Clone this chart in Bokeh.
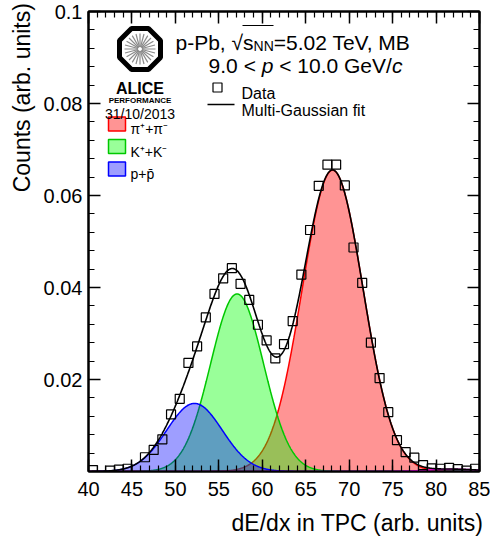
import math
import numpy as np
from bokeh.plotting import figure
from bokeh.models import Range1d, LinearAxis, FixedTicker, CustomJSTickFormatter, Label
from bokeh.embed import file_html
from bokeh.resources import INLINE

# ---------------- data ----------------
bin_centers = [40.5, 42.5, 43.5, 44.5, 46.5, 47.5, 48.5, 49.5, 50.5, 51.5, 52.5,
               53.5, 54.5, 55.5, 56.5, 57.5, 58.5, 59.5, 60.5, 61.5, 62.5, 63.5,
               64.5, 65.5, 66.5, 67.5, 68.5, 69.5, 70.5, 71.5, 72.5, 73.5, 74.5,
               75.5, 76.5, 77.5, 78.5, 79.5, 80.5, 81.5, 82.5, 83.5, 84.5]
counts = [0.0003, 0.0002, 0.0004, 0.0006, 0.0031, 0.0047, 0.0070, 0.0124, 0.0158,
          0.0236, 0.0272, 0.0335, 0.0386, 0.0420, 0.0442, 0.0408, 0.0373, 0.0319,
          0.0285, 0.0246, 0.0277, 0.0327, 0.0428, 0.0525, 0.0621, 0.0667, 0.0667,
          0.0622, 0.0487, 0.0410, 0.0280, 0.0203, 0.0129, 0.0068, 0.0042, 0.0030,
          0.0014, 0.0007, 0.0006, 0.0008, 0.0005, 0.0002, 0.0006]

# multi-Gaussian fit components (pi, K, p, e)
comp_names = ["pion", "kaon", "proton", "electron"]
comp_mean = [68.1, 57.1, 52.2, 82.0]
comp_sigma = [3.5, 3.05, 3.2, 3.0]
comp_amp = [0.0655, 0.0386, 0.0148, 0.0005]
comp_line = ["#ff0000", "#00c800", "#0000ff", "#ff00ff"]
comp_fill = ["#ff0000", "#00ff00", "#0000ff", "#ff00ff"]
comp_alpha = [0.42, 0.40, 0.38, 0.2]
legend_labels = ["\u03c0\u207a+\u03c0\u207b", "K\u207a+K\u207b", "p+p\u0304"]

x_major = [40, 45, 50, 55, 60, 65, 70, 75, 80, 85]
x_minor = list(range(40, 86))
y_major = [0.02, 0.04, 0.06, 0.08, 0.1]
y_minor = [round(0.004 * i, 3) for i in range(1, 26)]

x_title = "dE/dx in TPC (arb. units)"
y_title = "Counts (arb. units)"

# ---------------- layout ----------------
W, H = 490, 542
BL, BR, BT, BB = 88, 11, 11, 71
FW, FH = W - BL - BR, H - BT - BB
X0, X1, Y0, Y1 = 40.0, 85.0, 0.0, 0.1
FONT = "Liberation Sans"
NBSP = "\u00a0"


def dx(ix):  # page pixel -> data x
    return X0 + (ix - BL) * (X1 - X0) / FW


def dy(iy):  # page pixel -> data y
    return Y1 - (iy - BT) * (Y1 - Y0) / FH


p = figure(width=W, height=H, output_backend="svg", toolbar_location=None,
           x_range=Range1d(X0, X1), y_range=Range1d(Y0, Y1),
           min_border_left=BL, min_border_right=BR, min_border_top=BT,
           min_border_bottom=BB, background_fill_color="white",
           border_fill_color="white")
p.xgrid.visible = False
p.ygrid.visible = False
p.outline_line_color = "black"
p.outline_line_width = 2

xt = FixedTicker(ticks=x_major, minor_ticks=x_minor)
yt = FixedTicker(ticks=y_major, minor_ticks=y_minor)
yfmt = CustomJSTickFormatter(code="return (Math.round(tick*1000)/1000).toString();")
blank = CustomJSTickFormatter(code="return '';")


def style_axis(ax, labels=True, standoff=6):
    ax.axis_line_color = "black"
    ax.axis_line_width = 2
    ax.major_tick_in = 12
    ax.major_tick_out = 0
    ax.minor_tick_in = 6
    ax.minor_tick_out = 0
    ax.major_tick_line_width = 1.5
    ax.minor_tick_line_width = 1.2
    ax.major_tick_line_color = "black"
    ax.minor_tick_line_color = "black"
    ax.major_label_text_font = FONT
    ax.major_label_text_color = "black"
    ax.axis_label_text_font = FONT
    ax.axis_label_text_font_style = "normal"
    ax.axis_label_text_font_size = "23px"
    ax.axis_label_text_color = "black"
    if labels:
        ax.major_label_text_font_size = "20px"
        ax.major_label_standoff = standoff
    else:
        ax.formatter = blank
        ax.major_label_text_font_size = "1px"
        ax.major_label_standoff = 0


p.xaxis.ticker = xt
p.yaxis.ticker = yt
p.yaxis.formatter = yfmt
style_axis(p.xaxis[0], True, 10)
style_axis(p.yaxis[0], True, 6)
# titles are pushed towards the end of their axis (ROOT style) with
# leading non-breaking spaces, since Bokeh centres axis titles
p.xaxis.axis_label = NBSP * 23 + x_title
p.yaxis.axis_label = NBSP * 45 + y_title
p.xaxis.axis_label_standoff = 11
p.yaxis.axis_label_standoff = 6

top_ax = LinearAxis(ticker=xt)
style_axis(top_ax, False)
p.add_layout(top_ax, "above")
right_ax = LinearAxis(ticker=yt)
style_axis(right_ax, False)
p.add_layout(right_ax, "right")

# ---------------- fit components ----------------
xf = np.linspace(X0, X1, 901)
total = np.zeros_like(xf)
for name, m, s, a, lc, fc, al in zip(comp_names, comp_mean, comp_sigma, comp_amp,
                                     comp_line, comp_fill, comp_alpha):
    g = a * np.exp(-0.5 * ((xf - m) / s) ** 2)
    total += g
    if name != "electron":
        p.varea(x=xf, y1=0, y2=g, fill_color=fc, fill_alpha=al)
    p.line(xf, g, line_color=lc, line_width=1.5)

p.line(xf, total, line_color="black", line_width=1.6)
p.scatter(bin_centers, counts, marker="square", size=9, fill_color=None,
          line_color="black", line_width=1.2)


# ---------------- annotations ----------------
def lab(text, ix, iy, size, align="left", baseline="alphabetic", style="normal",
        color="black", font=FONT, angle=0.0):
    p.add_layout(Label(x=dx(ix), y=dy(iy), text=text, text_font=font,
                       text_font_size=f"{size}px", text_align=align,
                       text_baseline=baseline, text_font_style=style,
                       text_color=color, angle=angle))


# header
lab("p-Pb, \u221as", 175, 41.5, 21)
lab("NN", 253.1, 45.5, 14)
lab("=5.02 TeV, MB", 273.3, 41.5, 21)
p.segment(x0=[dx(242)], y0=[dy(25)], x1=[dx(273)], y1=[dy(25)],
          line_color="black", line_width=1.2)
for t, ix, st in [("9.0 <", 208.1, "normal"), ("p", 261.2, "italic"),
                  ("< 10.0 GeV/", 278.7, "normal"), ("c", 391.4, "italic")]:
    lab(t, ix, 64.5, 21, style=st)

# data / fit legend
p.scatter([dx(217)], [dy(87)], marker="square", size=9, fill_color=None,
          line_color="black", line_width=1.2)
lab("Data", 241, 92.7, 16)
p.segment(x0=[dx(207)], y0=[dy(104)], x1=[dx(234)], y1=[dy(104)],
          line_color="black", line_width=1.5)
lab("Multi-Gaussian fit", 241, 109.7, 16)

# species legend
for i, (t, iy) in enumerate(zip(legend_labels, [123.5, 146, 168.5])):
    p.rect(x=[dx(116.5)], y=[dy(iy)], width=17, height=14, width_units="screen",
           height_units="screen", fill_color=comp_fill[i], fill_alpha=comp_alpha[i],
           line_color=comp_line[i], line_width=1.5)
    lab(t, 130, iy + 5, 14)

# ALICE logo
cx, cy = 139.5, 48.5
rc = 20.5 / math.cos(math.pi / 8)
oct_x = [dx(cx + rc * math.cos(math.pi / 8 + k * math.pi / 4)) for k in range(8)]
oct_y = [dy(cy - rc * math.sin(math.pi / 8 + k * math.pi / 4)) for k in range(8)]
p.patch(oct_x, oct_y, fill_color="white", line_color="black", line_width=5)
sx0, sy0, sx1, sy1 = [], [], [], []
for k in range(24):
    ang = k * 2 * math.pi / 24
    sx0.append(dx(cx + 2 * math.cos(ang)))
    sy0.append(dy(cy - 2 * math.sin(ang)))
    sx1.append(dx(cx + 15.5 * math.cos(ang)))
    sy1.append(dy(cy - 15.5 * math.sin(ang)))
p.segment(x0=sx0, y0=sy0, x1=sx1, y1=sy1, line_color="#8a8a8a", line_width=1.2)
lab("ALICE", cx, 87.5, 16, align="center", style="bold")
lab("PERFORMANCE", cx, 99.5, 8, align="center", style="bold")
lab("31/10/2013", cx, 113, 14, align="center")

open("out.html", "w").write(file_html(p, INLINE))
